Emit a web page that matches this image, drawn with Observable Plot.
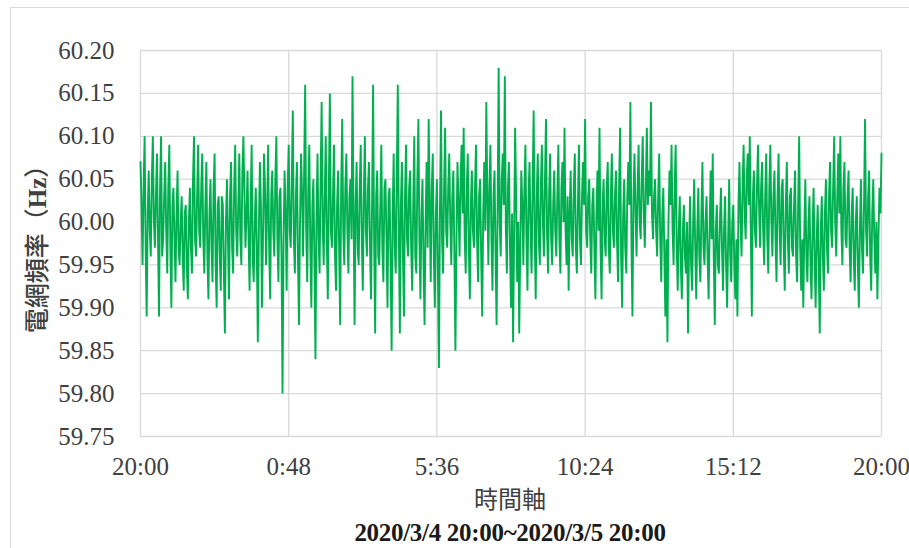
<!DOCTYPE html>
<html><head><meta charset="utf-8">
<script src="https://cdn.jsdelivr.net/npm/d3@7"></script>
<script src="https://cdn.jsdelivr.net/npm/@observablehq/plot@0.6"></script>
<style>
body{margin:0;background:#fff;width:909px;height:548px;overflow:hidden;position:relative;font-family:"Liberation Serif",serif;}
#frame{position:absolute;left:10px;top:7px;width:930px;height:600px;border:1px solid #d9d9d9;}
#chart{position:absolute;left:0;top:0;}
#ylab{position:absolute;left:35px;top:243px;transform:translate(-50%,-50%) rotate(-90deg);white-space:nowrap;font-size:25px;color:#404040;}
#ylab .cjk{font-family:"Noto Sans CJK TC",sans-serif;font-weight:500;}
#ylab b{font-family:"Liberation Serif",serif;font-weight:bold;}
#xlab{position:absolute;left:510px;top:497px;transform:translate(-50%,-50%);font-family:"Noto Sans CJK TC",sans-serif;font-size:24px;color:#404040;white-space:nowrap;}
#cap{position:absolute;left:510px;top:533px;transform:translate(-50%,-50%);font-weight:bold;font-size:25px;color:#1a1a1a;white-space:nowrap;letter-spacing:-0.3px;}
</style></head>
<body>
<div id="frame"></div>
<div id="chart"></div>
<div id="ylab"><span class="cjk">電網頻率（</span><b>Hz</b><span class="cjk">）</span></div>
<div id="xlab">時間軸</div>
<div id="cap">2020/3/4 20:00~2020/3/5 20:00</div>
<script>
// frequency deviation from 60 Hz, in 0.01 Hz, one sample every 2 minutes from 20:00
const baseHz = 60;
const stepMin = 2;
const devCentiHz = [
7,2,-5,4,10,-3,-11,1,6,-1,-4,5,10,0,-3,3,8,-2,-11,4,
10,-4,-2,3,7,-1,-6,4,9,-3,-10,2,4,-2,-7,1,6,-3,-5,0,
3,-4,-8,1,2,-5,-9,0,4,-3,-6,5,10,-2,-4,3,9,-1,-3,4,
8,-2,-6,2,7,-4,-9,1,5,-3,-7,4,8,-5,-10,2,3,-4,-8,3,
2,-6,-13,0,5,-2,-9,3,7,-3,-6,4,9,-1,-4,2,8,-2,-5,6,
10,3,-3,1,6,-2,-8,2,9,-4,-7,0,4,-3,-14,-1,7,2,-10,-2,
8,4,-5,1,9,-3,-9,3,6,-1,-4,5,10,-2,-7,3,4,-4,-20,-2,
6,1,-8,4,9,-1,-3,5,13,-2,-6,3,7,-4,-12,0,8,3,-4,6,
16,-1,-7,4,9,-3,-10,2,5,-5,-16,1,8,-2,-6,5,14,0,-5,3,
10,-2,-9,4,15,-1,-3,3,9,-4,-8,2,6,-3,-12,4,12,-1,-5,4,
8,-1,-6,3,5,-2,17,1,-12,2,7,-3,-5,4,9,-2,-8,3,10,-1,
-4,4,7,-3,-9,2,16,-2,-13,3,6,-4,-5,2,9,-3,-7,4,5,-2,
-10,3,4,-5,-15,1,8,-3,-6,5,16,-1,-13,2,7,-4,-11,3,9,-2,
-4,4,6,-3,-8,2,10,-4,-6,5,12,-2,-9,1,5,-5,-12,0,7,-3,
12,2,-7,4,8,-4,-10,1,5,-6,-17,2,13,-2,-6,4,11,-1,-3,4,
8,0,-5,3,6,-4,-15,-2,7,2,-4,5,9,1,11,-2,-6,4,8,-3,
-9,2,6,-1,-3,4,9,-2,-7,3,5,-4,-11,1,7,-1,14,3,-5,4,
9,-2,-8,3,6,-4,-12,2,18,0,-4,5,8,2,17,-1,-6,4,7,-3,
-10,1,-14,-2,11,3,-7,0,-13,-3,6,2,-5,4,9,-2,-8,3,7,-1,
-6,4,13,-1,-9,3,8,-2,-5,4,9,0,-4,5,12,-1,-6,3,8,-2,
-5,2,6,-1,-4,3,9,-2,-6,4,7,0,11,-1,-5,3,-8,1,6,-2,
-4,4,8,-3,-6,2,9,-2,-5,3,7,2,12,-1,-3,3,5,-2,-6,2,
4,-3,-9,1,6,-1,11,-3,-9,2,5,-2,-4,4,7,-3,-6,3,8,-1,
-3,3,6,-2,-7,4,11,-4,-10,1,5,-3,-6,3,7,2,14,-2,-11,3,
8,1,-4,4,9,0,-2,5,10,1,-3,4,11,2,6,3,14,1,-2,3,
5,-1,-4,3,8,-2,-7,1,4,-4,-11,-2,-14,0,6,2,9,-1,-5,4,
9,-3,-8,-1,3,-5,-9,-1,2,-4,-6,0,-13,-3,3,-5,-8,0,5,-3,
-9,-1,4,-4,-7,1,7,-3,-5,0,3,-4,-9,-1,6,-2,8,-4,-12,-1,
2,-5,-6,0,4,-3,-8,-1,3,-5,-10,-2,5,-4,-7,0,2,-5,-9,-2,
-11,2,7,0,-4,4,9,1,-2,5,8,2,10,-1,-11,3,6,-1,-3,4,
9,2,-3,4,7,-1,-5,3,8,-2,-6,4,9,0,-4,3,6,-2,-7,3,
8,-1,-5,4,5,-3,-8,2,7,-2,-6,3,4,-3,-4,2,6,-4,-7,2,
10,-3,-8,-2,-10,-1,5,-4,-7,0,3,-5,-9,-1,4,-4,-10,-2,2,-5,
-13,-1,3,-4,-8,1,5,-3,-6,3,7,-1,-3,4,10,0,-4,3,8,1,
10,-1,-5,4,7,-2,-3,3,6,-3,-7,1,4,-4,-8,0,3,-5,-10,-1,
5,-3,-6,2,12,-1,-4,3,6,-4,-8,1,5,-2,-6,0,-9,-2,4,1,
8
];
const xTickMinutes = [0, 288, 576, 864, 1152, 1440];
const xTickLabels = ["20:00", "0:48", "5:36", "10:24", "15:12", "20:00"];
const yTicks = [59.75, 59.80, 59.85, 59.90, 59.95, 60.00, 60.05, 60.10, 60.15, 60.20];

const data = devCentiHz.map((v, i) => ({t: i * stepMin, f: baseHz + v / 100}));

const chart = Plot.plot({
  width: 909,
  height: 490,
  marginLeft: 140,
  marginRight: 28,
  marginTop: 50,
  marginBottom: 54,
  style: {fontFamily: "Liberation Serif", fontSize: "25px", color: "#404040", background: "transparent"},
  x: {domain: [0, 1440], ticks: xTickMinutes, tickFormat: d => xTickLabels[xTickMinutes.indexOf(d)], label: null, tickSize: 0, tickPadding: 21},
  y: {domain: [59.75, 60.20], ticks: yTicks, tickFormat: d => d.toFixed(2), label: null, tickSize: 0, tickPadding: 26},
  marks: [
    Plot.gridX(xTickMinutes, {stroke: "#d9d9d9", strokeOpacity: 1, strokeWidth: 1.3}),
    Plot.gridY(yTicks, {stroke: "#d9d9d9", strokeOpacity: 1, strokeWidth: 1.3}),
    Plot.lineY(data, {x: "t", y: "f", stroke: "#00b050", strokeWidth: 1.9, strokeLinejoin: "miter", strokeMiterlimit: 1})
  ]
});
document.getElementById("chart").appendChild(chart);
</script>
</body></html>
